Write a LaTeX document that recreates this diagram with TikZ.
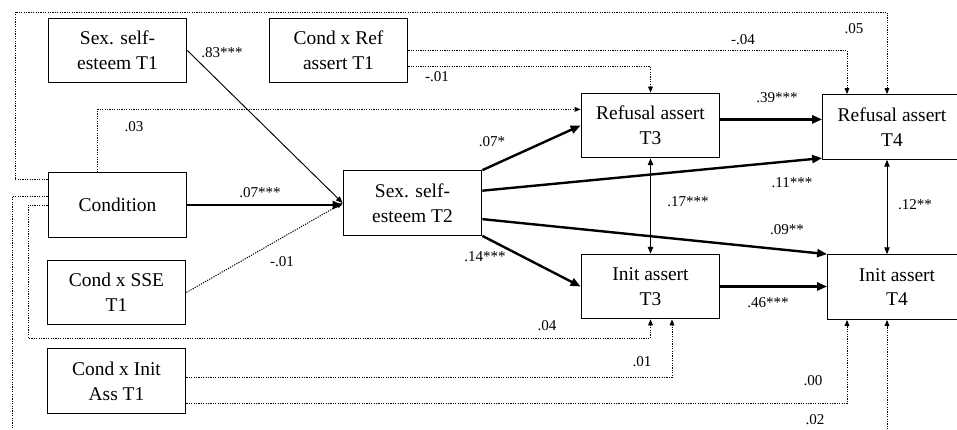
\documentclass[tikz,border=0pt]{standalone}
\usepackage{fontspec}
\setmainfont{Liberation Serif}
\usetikzlibrary{arrows.meta}

\begin{document}
\begin{tikzpicture}[x=0.75pt, y=-0.75pt,
        box/.style={draw, line width=0.8pt, minimum width=104pt, minimum height=48.5pt, inner sep=0pt, align=center, font=\fontsize{14.6}{18.6}\selectfont},
        lbl/.style={inner sep=0pt, font=\fontsize{11.3}{13}\selectfont},
        strong/.style={line width=1.8pt, -{Triangle[length=7.5pt, width=6pt]}},
        weak/.style={line width=0.7pt, -{Triangle[length=5pt, width=4pt]}},
        both/.style={line width=0.7pt, {Triangle[length=5pt, width=4pt]}-{Triangle[length=5pt, width=4pt]}},
        ns/.style={line width=0.75pt, dash pattern=on 0.9pt off 0.9pt, -{Triangle[length=4.5pt, width=3.5pt]}}]
        \useasboundingbox (0,0) rectangle (957,429);

        \node[box] (sse1) at (117.5, 50.5) {Sex. self-\\esteem T1};
        \node[box] (cxref) at (338.5, 50.5) {Cond x Ref\\assert T1};
        \node[box] (cond) at (117.5, 205) {Condition};
        \node[box] (cxsse) at (116.5, 292.5) {Cond x SSE\\T1};
        \node[box] (cxinit) at (116.5, 381) {Cond x Init\\Ass T1};
        \node[box] (sse2) at (412.5, 203) {Sex. self-\\esteem T2};
        \node[box] (ref3) at (650.5, 125.5) {Refusal assert\\T3};
        \node[box] (init3) at (650.5, 286.5) {Init assert\\T3};
        \node[box] (ref4) at (892, 127) {Refusal assert\\T4};
        \node[box] (init4) at (897, 287) {Init assert\\T4};

        \coordinate (xa) at (672, 0);
        \coordinate (xb) at (847, 0);
        \coordinate (xc) at (887, 0);
        \coordinate (top) at (15, 12);
        \coordinate (low) at (28, 338);
        \coordinate (bot) at (12, 436);

        \draw[weak] (sse1.east) -- (sse2.west);
        \draw[strong] (cond.east) -- (cond.east -| sse2.west);
        \draw[ns] (cxsse.east) -- (sse2.west);
        \draw[strong] (sse2.north east) -- (ref3.west);
        \draw[strong] (sse2.10) -- (ref4.204);
        \draw[strong] (sse2.-13) -- (init4.north west);
        \draw[strong] (sse2.south east) -- (init3.west);
        \draw[strong] (ref3.5) -- (ref3.5 -| ref4.west);
        \draw[strong] (init3.east) -- (init3.east -| init4.west);
        \draw[both] (ref3.south) -- (init3.north);
        \draw[both] (ref4.south -| xc) -- (init4.north -| xc);

        \draw[ns] (cond.121) |- (ref3.167);
        \draw[ns] (cond.160) -| (top) -| (ref4.north -| xc);
        \draw[ns] (cond.173) -| (bot) -| (init4.south -| xc);
        \draw[ns] (cond.west) -| (low) -| (init3.south);
        \draw[ns] (cxref.east) -| (ref4.north -| xb);
        \draw[ns] (cxref.-13) -| (ref3.north);
        \draw[ns] (cxinit.3) -| (init3.south -| xa);
        \draw[ns] (cxinit.-18) -| (init4.south -| xb);

        \node[lbl] (b1) at (222, 53) {.83***};
        \node[lbl] (b2) at (437, 77) {-.01};
        \node[lbl] (b3) at (134, 127) {.03};
        \node[lbl] (b4) at (260, 193) {.07***};
        \node[lbl] (b5) at (854, 29) {.05};
        \node[lbl] (b6) at (743, 40) {-.04};
        \node[lbl] (b7) at (777, 98) {.39***};
        \node[lbl] (b8) at (492, 142) {.07*};
        \node[lbl] (b9) at (792, 183) {.11***};
        \node[lbl] (b10) at (688, 202) {.17***};
        \node[lbl] (b11) at (915, 205) {.12**};
        \node[lbl] (b12) at (787, 230) {.09**};
        \node[lbl] (b13) at (485, 257) {.14***};
        \node[lbl] (b14) at (282, 262) {-.01};
        \node[lbl] (b15) at (768, 303) {.46***};
        \node[lbl] (b16) at (547, 326) {.04};
        \node[lbl] (b17) at (642, 362) {.01};
        \node[lbl] (b18) at (813, 381) {.00};
        \node[lbl] (b19) at (815, 420) {.02};
\end{tikzpicture}
\end{document}
